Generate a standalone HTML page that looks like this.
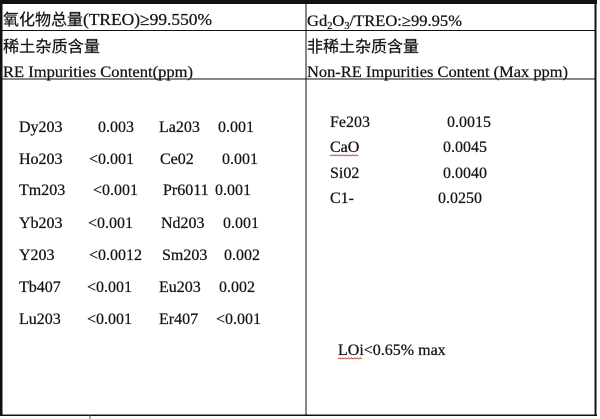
<!DOCTYPE html>
<html>
<head>
<meta charset="utf-8">
<style>
  html, body { margin: 0; padding: 0; background: #fff; }
  svg { display: block; }
  .lat { font-family: "Liberation Serif", "Noto Serif CJK SC", serif; fill: #141414; stroke: #141414; stroke-width: 0.25; }
  .cjk { font-family: "Liberation Sans", "Noto Sans CJK SC", sans-serif; fill: #141414; stroke: #141414; stroke-width: 0.2; }
</style>
</head>
<body>
<svg width="600" height="419" viewBox="0 0 600 419" xmlns="http://www.w3.org/2000/svg">
  <rect x="0" y="0" width="600" height="419" fill="#fff"/>
  <!-- borders -->
  <rect x="0" y="0" width="597" height="4" fill="#111"/>
  <rect x="0" y="0" width="2.5" height="416" fill="#111"/>
  <rect x="594.5" y="0" width="2" height="416" fill="#111"/>
  <rect x="0" y="414.5" width="597" height="1.5" fill="#111"/>
  <rect x="89.5" y="415" width="1" height="4" fill="#555"/>
  <rect x="0" y="30" width="596" height="1" fill="#111"/>
  <rect x="0" y="78.5" width="596" height="1" fill="#111"/>
  <rect x="305.5" y="0" width="1" height="416" fill="#111"/>

  <!-- header left -->
  <text class="cjk" x="3" y="25" font-size="16" textLength="80" lengthAdjust="spacingAndGlyphs">氧化物总量</text>
  <text class="lat" x="83" y="25" font-size="17" textLength="129" lengthAdjust="spacingAndGlyphs">(TREO)≥99.550%</text>
  <text class="cjk" x="3" y="52" font-size="16" textLength="97" lengthAdjust="spacingAndGlyphs">稀土杂质含量</text>
  <text class="lat" x="3" y="77" font-size="16" textLength="190" lengthAdjust="spacingAndGlyphs">RE Impurities Content(ppm)</text>

  <!-- header right -->
  <text class="lat" x="307" y="26" font-size="16" textLength="155" lengthAdjust="spacingAndGlyphs">Gd<tspan font-size="10" dy="3">2</tspan><tspan dy="-3">O</tspan><tspan font-size="10" dy="3">3</tspan><tspan dy="-3">/TREO:≥99.95%</tspan></text>
  <text class="cjk" x="307" y="52" font-size="16" textLength="112" lengthAdjust="spacingAndGlyphs">非稀土杂质含量</text>
  <text class="lat" x="307" y="77" font-size="16" textLength="261" lengthAdjust="spacingAndGlyphs">Non-RE Impurities Content (Max ppm)</text>

  <!-- left data -->
  <g class="lat" font-size="16">
    <text x="19" y="132">Dy203</text><text x="98" y="132">0.003</text><text x="159" y="132">La203</text><text x="218" y="132">0.001</text>
    <text x="19" y="164">Ho203</text><text x="89" y="164">&lt;0.001</text><text x="160" y="164">Ce02</text><text x="222" y="164">0.001</text>
    <text x="19" y="195">Tm203</text><text x="93" y="195">&lt;0.001</text><text x="163" y="195">Pr6011</text><text x="215" y="195">0.001</text>
    <text x="19" y="228">Yb203</text><text x="88" y="228">&lt;0.001</text><text x="161" y="228">Nd203</text><text x="223" y="228">0.001</text>
    <text x="19" y="260">Y203</text><text x="89" y="260">&lt;0.0012</text><text x="162" y="260">Sm203</text><text x="224" y="260">0.002</text>
    <text x="19" y="292">Tb407</text><text x="87" y="292">&lt;0.001</text><text x="159" y="292">Eu203</text><text x="219" y="292">0.002</text>
    <text x="19" y="324">Lu203</text><text x="87" y="324">&lt;0.001</text><text x="159" y="324">Er407</text><text x="216" y="324">&lt;0.001</text>
  </g>

  <!-- right data -->
  <g class="lat" font-size="16">
    <text x="330" y="127">Fe203</text><text x="447" y="127">0.0015</text>
    <text x="330" y="152">CaO</text><text x="443" y="152">0.0045</text>
    <text x="330" y="178">Si02</text><text x="443" y="178">0.0040</text>
    <text x="330" y="203">C1-</text><text x="438" y="203">0.0250</text>
    <text x="338" y="355">LOi&lt;0.65% max</text>
  </g>
  <!-- spell-check squiggles -->
  <path d="M330 156 l1.5 -1.2 l1.5 1.2 l1.5 -1.2 l1.5 1.2 l1.5 -1.2 l1.5 1.2 l1.5 -1.2 l1.5 1.2 l1.5 -1.2 l1.5 1.2 l1.5 -1.2 l1.5 1.2 l1.5 -1.2 l1.5 1.2 l1.5 -1.2 l1.5 1.2 l1.5 -1.2 l1.5 1.2 l1.5 -1.2" fill="none" stroke="#c0392b" stroke-width="0.8"/>
  <path d="M338 359 l1.5 -1.2 l1.5 1.2 l1.5 -1.2 l1.5 1.2 l1.5 -1.2 l1.5 1.2 l1.5 -1.2 l1.5 1.2 l1.5 -1.2 l1.5 1.2 l1.5 -1.2 l1.5 1.2 l1.5 -1.2 l1.5 1.2 l1.5 -1.2 l1.5 1.2" fill="none" stroke="#c0392b" stroke-width="0.8"/>
</svg>
</body>
</html>
